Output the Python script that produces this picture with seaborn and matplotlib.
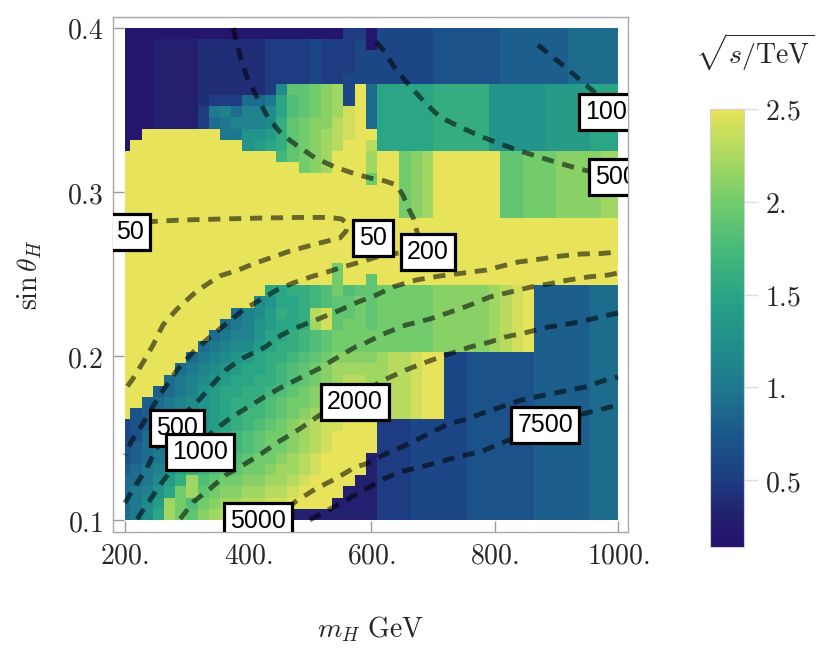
import numpy as np
import matplotlib
matplotlib.use("Agg")
import matplotlib.pyplot as plt
from matplotlib.colors import LinearSegmentedColormap, Normalize
import seaborn as sns

# ---------------- data ----------------
# grid of the density plot: 45 mass points, 44 rows in sin(theta_H)
mass_points = np.linspace(200, 1000, 45)
sin_edges = np.linspace(0.4, 0.1, 45)          # row 0 is the top row

# value code: a=0.2, b=0.3, ... x=2.5  (sqrt(s)/TeV)
value_codes = "abcdefghijklmnopqrstuvwx"
value_levels = [0.2, 0.3, 0.4, 0.5, 0.6, 0.7, 0.8, 0.9, 1.0, 1.1, 1.2, 1.3,
                1.4, 1.5, 1.6, 1.7, 1.8, 1.9, 2.0, 2.1, 2.2, 2.3, 2.4, 2.5]

# left part of every row (m = 200 ... ~600 GeV, 23 cells)
rows_left = [
    "aaaaaaaaaaaaaaaaaaaadda",
    "aaabbbbccccccddddedddea",
    "aaabbbbccccccddddedddee",
    "aaabbbbccccccddddedddee",
    "aaabbbbccccccddddeddeee",
    "aaabbbbccccccdkrrstuexh",
    "aaabbbbcdddhhinqrstuexh",
    "aaabbbbdijhjjknqrstuwxh",
    "aaabbbbdhijjjkorsttvwxh",
    "aaxxxxxxxiillmorstuvwxx",
    "axxxxxxxxxxlmnorstuvxxv",
    "xxxxxxxxxxxxxxprstuxxxu",
    "xxxxxxxxxxxxxxxxstuxxxu",
    "xxxxxxxxxxxxxxxxxxxxxxs",
    "xxxxxxxxxxxxxxxxxxxxxxx",
    "xxxxxxxxxxxxxxxxxxxxxxx",
    "xxxxxxxxxxxxxxxxxxxxxxx",
    "xxxxxxxxxxxxxxxxxxxxxxx",
    "xxxxxxxxxxxxxxxxxxxxxxx",
    "xxxxxxxxxxxxxxxxxxxxxxx",
    "xxxxxxxxxxxxxxxxxxxxxxx",
    "xxxxxxxxxxxxxxxxxxxsxxx",
    "xxxxxxxxxxxxxxxxxxxsxxr",
    "xxxxxxxxxxxxxnnoopqsqrr",
    "xxxxxxxxxxxxklnnopqrrsr",
    "xxxxxxxxxxhjkmonovwrrsr",
    "xxxxxxxxxhijlmnnouwrssr",
    "xxxxxxxxhijjlnnopqrssss",
    "xxxxxxxhijkkmnoopqrssss",
    "xxxxxxhijklmnoopqrstttt",
    "xxxxxhijklmnnopqrstuuuu",
    "xxxxhijklmnnoopqrstuvvu",
    "xxxghijlmnnoopqrstuvvwv",
    "xxghijklmnoopqrsstuvwwv",
    "xfghijklmnoppqrstuvwxwv",
    "efghijklmnopqrstuvwwxxx",
    "efhijklmnopqrsstuvwxxxx",
    "fghiklmnoopqrsstuvwxxxx",
    "fghikmnopqqrsstuvwxxxxb",
    "ghijlnopqrrsstuuvwxxxxb",
    "hhikmouqrssttuuvwxxxxbb",
    "hijlnsursttuuvvwxxxxbbb",
    "hikmusqstuuvvwwxxxxbbbb",
    "hiknusrtuvvwwxxbbbbbbbb",
]

# right part (m ~ 610 ... 1000 GeV, 22 cells), coarse bands in sin(theta_H)
right_bands = [
    ("eeeeeffffffgggggghhhhh", 5),
    ("nnnnnooooolllllmmmmnnn", 6),
    ("xxstuxxxxxxrrsssttttuu", 6),
    ("xxxxxxxxxxxxxxxxxxxxxx", 6),
    ("ssssstttttuvwxggggghhh", 6),
    ("uvvwxxeeffffffggggghhh", 6),
    ("dddeeeeeffffffggggghhh", 9),
]

# dashed contour lines (m_H in GeV, sin theta_H)
c50_m = [200, 290, 354, 419, 484, 533, 552, 561, 559, 549, 510, 468, 436, 408, 384,
         354, 317, 285, 262, 246, 230, 213, 200]
c50_s = [0.2811, 0.2829, 0.2835, 0.2841, 0.2845, 0.2845, 0.2835, 0.2805, 0.2762, 0.2720,
         0.2683, 0.2640, 0.2598, 0.2561, 0.2524, 0.2488, 0.2397, 0.2287, 0.2189, 0.2067,
         0.1963, 0.1860, 0.1793]
c200_m = [376, 379, 389, 400, 416, 432, 454, 478, 509, 541, 574, 598, 622, 640, 651,
          659, 668, 674, 679, 666, 651, 635, 609, 582, 554, 528, 501, 473, 447, 419,
          392, 366, 338, 311, 285, 257, 230, 212, 200]
c200_s = [0.4000, 0.3945, 0.3805, 0.3683, 0.3567, 0.3457, 0.3354, 0.3287, 0.3207, 0.3152,
          0.3110, 0.3085, 0.3067, 0.3043, 0.2982, 0.2909, 0.2841, 0.2756, 0.2677, 0.2634,
          0.2634, 0.2622, 0.2604, 0.2573, 0.2543, 0.2512, 0.2482, 0.2445, 0.2403, 0.2341,
          0.2281, 0.2201, 0.2116, 0.2024, 0.1915, 0.1762, 0.1591, 0.1488, 0.1396]
c500_m = [200, 218, 235, 251, 273, 298, 322, 343, 364, 392, 428, 454, 481, 514, 546,
          578, 608, 635, 672, 711, 749, 786, 838, 875, 908, 940, 972, 1000]
c500_s = [0.1104, 0.1213, 0.1311, 0.1433, 0.1549, 0.1652, 0.1738, 0.1829, 0.1915, 0.1988,
          0.2055, 0.2128, 0.2177, 0.2226, 0.2275, 0.2329, 0.2372, 0.2421, 0.2463, 0.2488,
          0.2506, 0.2524, 0.2573, 0.2592, 0.2610, 0.2622, 0.2625, 0.2634]
c1000_m = [220, 238, 257, 282, 314, 346, 371, 395, 421, 449, 481, 514, 546, 574, 587,
           619, 656, 695, 728, 760, 792, 825, 859, 887, 919, 951, 984, 1000]
c1000_s = [0.1006, 0.1104, 0.1213, 0.1336, 0.1445, 0.1549, 0.1622, 0.1677, 0.1738, 0.1799,
           0.1860, 0.1921, 0.1994, 0.2055, 0.2073, 0.2134, 0.2189, 0.2226, 0.2268, 0.2311,
           0.2360, 0.2390, 0.2421, 0.2439, 0.2463, 0.2482, 0.2494, 0.2506]
c2000_m = [290, 311, 338, 364, 395, 421, 449, 481, 514, 549, 582, 624, 656, 689, 721,
           760, 792, 817, 854, 887, 919, 951, 984, 1000]
c2000_s = [0.1006, 0.1110, 0.1189, 0.1275, 0.1342, 0.1403, 0.1476, 0.1549, 0.1634, 0.1713,
           0.1774, 0.1860, 0.1915, 0.1963, 0.2006, 0.2055, 0.2085, 0.2116, 0.2146, 0.2177,
           0.2195, 0.2220, 0.2250, 0.2262]
c5000_m = [436, 465, 476, 509, 541, 574, 591, 619, 656, 689, 721, 754, 786, 843, 882,
           914, 946, 980, 1000]
c5000_s = [0.1000, 0.1073, 0.1110, 0.1189, 0.1250, 0.1323, 0.1342, 0.1396, 0.1457, 0.1518,
           0.1579, 0.1616, 0.1659, 0.1732, 0.1762, 0.1787, 0.1811, 0.1854, 0.1872]
c7500_m = [500, 530, 562, 587, 603, 619, 646, 679, 711, 744, 776, 808, 834, 882, 935,
           968, 1000]
c7500_s = [0.1000, 0.1061, 0.1128, 0.1183, 0.1213, 0.1250, 0.1293, 0.1323, 0.1354, 0.1390,
           0.1415, 0.1464, 0.1506, 0.1579, 0.1640, 0.1671, 0.1701]
c500up_m = [608, 619, 640, 668, 689, 711, 744, 776, 809, 841, 898, 938, 979]
c500up_s = [0.3915, 0.3866, 0.3744, 0.3622, 0.3537, 0.3457, 0.3396, 0.3341, 0.3293, 0.3250,
            0.3183, 0.3140, 0.3104]
c1000up_m = [870, 882, 914, 946, 971]
c1000up_s = [0.3896, 0.3860, 0.3762, 0.3659, 0.3579]

# contour labels: text, m_H, sin theta_H
label_text = ["50", "50", "200", "500", "1000", "2000", "5000", "7500", "1000", "500"]
label_m = [209, 603, 692, 285, 322, 573, 416, 882, 992, 997]
label_s = [0.2756, 0.2720, 0.2634, 0.1561, 0.1415, 0.1720, 0.0995, 0.1579, 0.3488, 0.3092]

cbar_ticks = [0.5, 1.0, 1.5, 2.0, 2.5]
cbar_ticklabels = ["0.5", "1.", "1.5", "2.", "2.5"]
x_ticks = [200, 400, 600, 800, 1000]
x_ticklabels = ["200.", "400.", "600.", "800.", "1000."]
y_ticks = [0.1, 0.2, 0.3, 0.4]
y_ticklabels = ["0.1", "0.2", "0.3", "0.4"]

# ---------------- build ----------------
right_rows = []
for band, n in right_bands:
    right_rows += [band] * n
rows = [l + r for l, r in zip(rows_left, right_rows)]
code_to_val = dict(zip(value_codes, value_levels))
Z = np.array([[code_to_val[c] for c in row] for row in rows])

mass_edges = np.concatenate([[200], (mass_points[:-1] + mass_points[1:]) / 2, [1000]])

sns.set_theme(style="white")
plt.rcParams["mathtext.fontset"] = "cm"
plt.rcParams["font.family"] = ["DejaVu Sans"]

vmin, vmax = 0.14, 2.5
anchor_vals = [0.14, 0.3, 0.5, 0.75, 1.0, 1.25, 1.5, 1.75, 2.0, 2.25, 2.5]
anchor_cols = ["#24106a", "#22206f", "#1d3c82", "#1b588b", "#1f798e", "#21908c",
               "#2aa585", "#47b97a", "#72cc6c", "#abd960", "#e7e35a"]
cmap = LinearSegmentedColormap.from_list(
    "bgy", [((v - vmin) / (vmax - vmin), c) for v, c in zip(anchor_vals, anchor_cols)])
norm = Normalize(vmin=vmin, vmax=vmax)

fig = plt.figure(figsize=(8.3, 6.48), dpi=100)
ax = fig.add_axes([113 / 830, 1 - 532 / 648, 515 / 830, 515 / 648])
mesh = ax.pcolormesh(mass_edges, sin_edges, Z, cmap=cmap, norm=norm,
                     shading="flat", edgecolors="none", antialiased=False, zorder=1)

contours = [(c50_m, c50_s), (c200_m, c200_s), (c500_m, c500_s), (c1000_m, c1000_s),
            (c2000_m, c2000_s), (c5000_m, c5000_s), (c7500_m, c7500_s),
            (c500up_m, c500up_s), (c1000up_m, c1000up_s)]
for cm_, cs_ in contours:
    sns.lineplot(x=cm_, y=cs_, sort=False, estimator=None, ax=ax, color="black",
                 alpha=0.55, lw=3.5, zorder=3)
    ln = ax.lines[-1]
    ln.set_linestyle((0, (2.5, 1.8)))
    ln.set_dash_capstyle("butt")

for t, lm, ls in zip(label_text, label_m, label_s):
    ax.text(lm, ls, t, ha="center", va="center", fontsize=18,
            family=["Liberation Sans", "DejaVu Sans"], color="black", zorder=6,
            clip_on=True,
            bbox=dict(boxstyle="square,pad=0.24", fc="white", ec="black", lw=2.3))

ax.set_xlim(181, 1016)
ax.set_ylim(0.0927, 0.4067)
ax.set_xticks(x_ticks)
ax.set_xticklabels([f"${t}$" for t in x_ticklabels])
ax.set_yticks(y_ticks)
ax.set_yticklabels([f"${t}$" for t in y_ticklabels])
ax.tick_params(direction="in", length=8, width=1, color="#9a9a9a", labelsize=20,
               top=False, right=False, bottom=True, left=True, pad=7)
for sp in ax.spines.values():
    sp.set_visible(True)
    sp.set_color("#a8a8a8")
    sp.set_linewidth(1.0)
ax.set_xlabel(r"$m_H\ \mathrm{GeV}$", fontsize=20, labelpad=32)
ax.set_ylabel(r"$\sin\theta_H$", fontsize=20, labelpad=16)

cax = fig.add_axes([710 / 830, 1 - 547 / 648, 34 / 830, 438 / 648])
cb = fig.colorbar(mesh, cax=cax)
cb.set_ticks(cbar_ticks)
cb.set_ticklabels([f"${t}$" for t in cbar_ticklabels])
cb.outline.set_edgecolor("#d0d0d0")
cb.outline.set_linewidth(0.8)
cax.tick_params(length=10, width=1, color="#dddddd", labelsize=20, pad=5, direction="out")
fig.text(755 / 830, 1 - 52 / 648, r"$\sqrt{s/\mathrm{TeV}}$", ha="center", va="center",
         fontsize=20)

fig.savefig("out.png", dpi=100, facecolor="white")
